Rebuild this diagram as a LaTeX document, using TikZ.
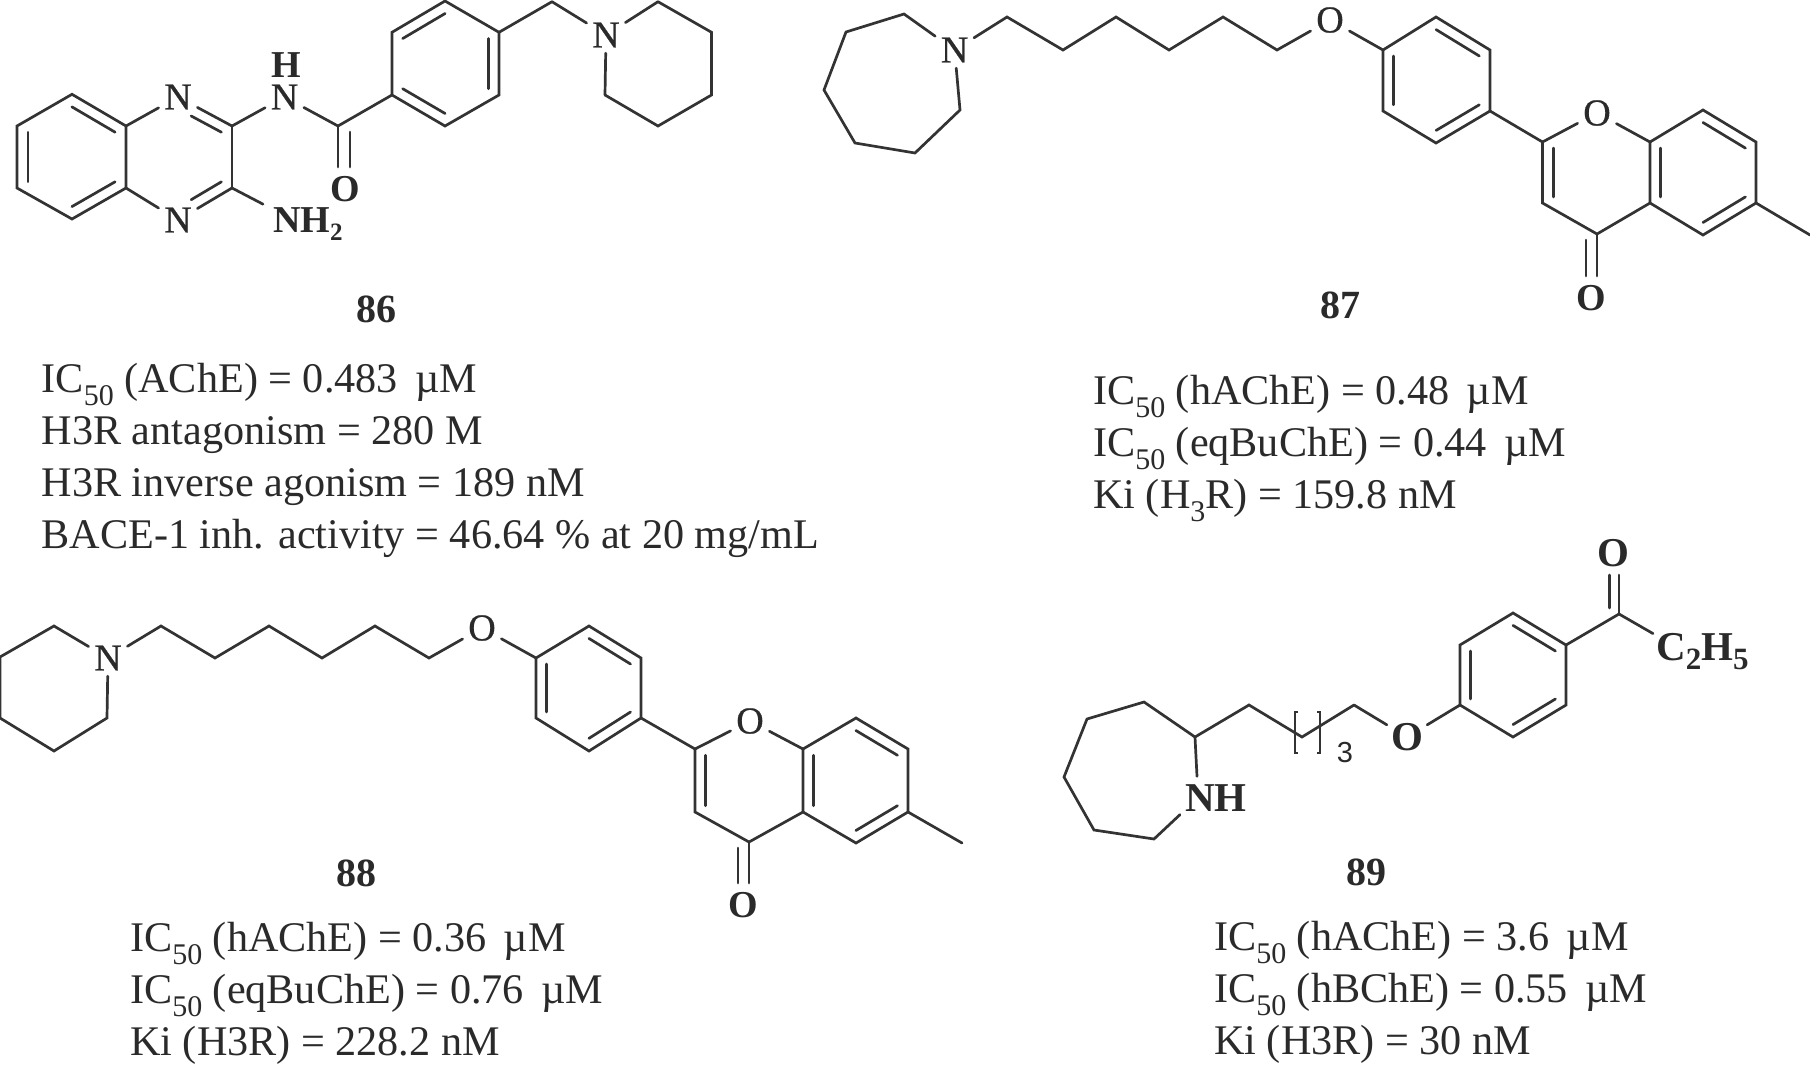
\documentclass[tikz,border=0pt]{standalone}
\usepackage{fontspec}
\setmainfont{Liberation Serif}
\setsansfont{Liberation Sans}
\newfontfamily\atomfont[FakeBold=0.6]{Liberation Serif}
\usetikzlibrary{calc}
\definecolor{ink}{HTML}{333333}
\definecolor{txt}{HTML}{2A2A2A}
\newcommand\dbl[3]{\draw[bond] ($(#1)!.2!(#3)$) -- ($(#2)!.2!(#3)$);}
\newcommand\dblN[3]{\draw[bond] ($($(#1)!.2!(#3)$)!.3!($(#2)!.2!(#3)$)$) -- ($(#2)!.2!(#3)$);}
\newcommand\subn[1]{\raisebox{-0.3em}{\fontsize{30}{30}\selectfont #1}}
\newcommand\subb[1]{\raisebox{-0.22em}{\fontsize{25}{25}\selectfont #1}}
\newcommand\subc[1]{\raisebox{-0.22em}{\fontsize{31}{31}\selectfont #1}}
\tikzset{
  bond/.style={draw=ink,line width=2.7pt,line join=miter,line cap=round},
  atom/.style={inner sep=5.5pt,text=txt,font=\fontsize{38}{38}\atomfont},
  batom/.style={atom,font=\fontsize{38}{38}\selectfont\bfseries},
  latom/.style={inner sep=4pt,text=txt,font=\fontsize{41}{41}\selectfont\bfseries},
  idlabel/.style={inner sep=0pt,text=txt,font=\fontsize{40}{40}\selectfont\bfseries},
  data/.style={inner sep=0pt,anchor=north west,align=left,text=txt,font=\fontsize{42.2}{51.8}\selectfont},
}
\begin{document}
\begin{tikzpicture}[x=1pt,y=-1pt]
\useasboundingbox (0,0) rectangle (1810,1069);
% ---------- 86 ----------
\coordinate (a1) at (17,126); \coordinate (a2) at (72,94.3); \coordinate (a3) at (126,126);
\coordinate (a4) at (126,188); \coordinate (a5) at (72,219); \coordinate (a6) at (17,188);
\coordinate (ac1) at (71.5,157); \coordinate (ac2) at (179,157);
\coordinate (a7) at (232,126); \coordinate (a8) at (232,188);
\coordinate (a9) at (338,126);
\coordinate (a9o) at (338,167); \coordinate (a9p) at (350,132); \coordinate (a9q) at (350,167);
\node[atom] (an1) at (178,97) {N};
\node[atom] (an2) at (178,220) {N};
\node[atom] (anh) at (284.5,97) {N};
\node[batom,inner sep=0pt] (ah) at (286,65) {H};
\node[batom] (aoo) at (345,189) {O};
\node[batom,anchor=west,inner sep=0pt] (anh2) at (273,224) {NH\subb{2}};
\coordinate (b1) at (392,95); \coordinate (b2) at (392,32.3); \coordinate (b3) at (445,1);
\coordinate (b4) at (499,32.3); \coordinate (b5) at (499,95); \coordinate (b6) at (445,126);
\coordinate (bc) at (445.5,63.5);
\coordinate (b7) at (552,1.7);
\node[atom] (bn) at (606,35) {N};
\coordinate (p1) at (658,1.7); \coordinate (p2) at (711.5,32.3); \coordinate (p3) at (711.5,95);
\coordinate (p4) at (658,126); \coordinate (p5) at (605,95);
\draw[bond] (a1)--(a2)--(a3)--(a4)--(a5)--(a6)--cycle;
\dbl{a2}{a3}{ac1} \dbl{a4}{a5}{ac1} \dbl{a6}{a1}{ac1}
\draw[bond] (a3)--(an1); \draw[bond] (an1)--(a7); \draw[bond] (a7)--(a8); \draw[bond] (a8)--(an2); \draw[bond] (an2)--(a4);
\dblN{an1}{a7}{ac2} \dblN{an2}{a8}{ac2}
\draw[bond] (a7)--(anh); \draw[bond] (anh)--(a9); \draw[bond] (a8)--([xshift=-10pt,yshift=3pt]anh2.north west);
\draw[bond] (a9)--(a9o); \draw[bond] (a9p)--(a9q);
\draw[bond] (a9)--(b1);
\draw[bond] (b1)--(b2)--(b3)--(b4)--(b5)--(b6)--cycle;
\dbl{b1}{b6}{bc} \dbl{b2}{b3}{bc} \dbl{b4}{b5}{bc}
\draw[bond] (b4)--(b7); \draw[bond] (b7)--(bn); \draw[bond] (bn)--(p1);
\draw[bond] (p1)--(p2)--(p3)--(p4)--(p5); \draw[bond] (p5)--(bn);
\node[idlabel] (l86) at (376.5,309) {86};
\node[data] (t86) at (41.5,363.5) {IC\subn{50} (AChE) = 0.483\, µM\\H3R antagonism = 280 M\\H3R inverse agonism = 189 nM\\BACE-1 inh. activity = 46.64 \% at 20 mg/mL};
% ---------- 87 ----------
\node[atom] (cn) at (954.6,50) {N};
\coordinate (c1) at (904,14); \coordinate (c2) at (846,32); \coordinate (c3) at (824,90);
\coordinate (c4) at (855,143); \coordinate (c5) at (915,153); \coordinate (c6) at (960,110);
\coordinate (d1) at (1007,17); \coordinate (d2) at (1063,50); \coordinate (d3) at (1116,17);
\coordinate (d4) at (1169,50); \coordinate (d5) at (1223,17); \coordinate (d6) at (1277,50);
\node[atom] (do) at (1330,20) {O};
\coordinate (e1) at (1383,50); \coordinate (e2) at (1436,17); \coordinate (e3) at (1490,50);
\coordinate (e4) at (1490,111); \coordinate (e5) at (1436,143); \coordinate (e6) at (1383,111);
\coordinate (ec) at (1436.5,80);
\coordinate (f1) at (1542.5,142);
\node[atom] (fo) at (1597,113) {O};
\coordinate (f2) at (1650,142); \coordinate (f3) at (1650,203); \coordinate (f4) at (1597,234);
\coordinate (f5) at (1542.5,203);
\coordinate (fc) at (1596.5,172.5);
\coordinate (f4a) at (1597,276); \coordinate (f4b) at (1586,240); \coordinate (f4c) at (1586,276);
\node[batom] (foo) at (1591,298) {O};
\coordinate (g1) at (1703,110); \coordinate (g2) at (1756,142); \coordinate (g3) at (1756,203);
\coordinate (g4) at (1703,235); \coordinate (g5) at (1810,235);
\coordinate (gc) at (1703,172.5);
\draw[bond] (cn)--(c1)--(c2)--(c3)--(c4)--(c5)--(c6)--(cn);
\draw[bond] (cn)--(d1)--(d2)--(d3)--(d4)--(d5)--(d6)--(do);
\draw[bond] (do)--(e1);
\draw[bond] (e1)--(e2)--(e3)--(e4)--(e5)--(e6)--cycle;
\dbl{e1}{e6}{ec} \dbl{e2}{e3}{ec} \dbl{e4}{e5}{ec}
\draw[bond] (e4)--(f1);
\draw[bond] (f1)--(fo); \draw[bond] (fo)--(f2);
\draw[bond] (f2)--(f3)--(f4)--(f5)--(f1);
\dbl{f1}{f5}{fc}
\draw[bond] (f4)--(f4a); \draw[bond] (f4b)--(f4c);
\draw[bond] (f2)--(g1)--(g2)--(g3)--(g4)--(f3);
\dbl{f2}{f3}{gc} \dbl{g1}{g2}{gc} \dbl{g3}{g4}{gc}
\draw[bond] (g3)--(g5);
\node[idlabel] (l87) at (1340,305) {87};
\node[data] (t87) at (1093,375.5) {IC\subn{50} (hAChE) = 0.48\, µM\\IC\subn{50} (eqBuChE) = 0.44\, µM\\Ki (H\subn{3}R) = 159.8 nM};
% ---------- 88 ----------
\node[atom] (hn) at (108,658) {N};
\coordinate (h1) at (54,626); \coordinate (h2) at (0,657); \coordinate (h3) at (0,718);
\coordinate (h4) at (54,751); \coordinate (h5) at (107,718);
\coordinate (i1) at (161,626); \coordinate (i2) at (215,658); \coordinate (i3) at (269,626);
\coordinate (i4) at (322,658); \coordinate (i5) at (375,626); \coordinate (i6) at (429,658);
\node[atom] (io) at (482,628) {O};
\coordinate (j1) at (536,658); \coordinate (j2) at (589,626); \coordinate (j3) at (641,658);
\coordinate (j4) at (641,718); \coordinate (j5) at (589,751); \coordinate (j6) at (536,718);
\coordinate (jc) at (588.5,688);
\coordinate (k1) at (695,749);
\node[atom] (ko) at (750,721) {O};
\coordinate (k2) at (803,749); \coordinate (k3) at (803,812); \coordinate (k4) at (749,842);
\coordinate (k5) at (695,812);
\coordinate (kc) at (749,780.5);
\coordinate (k4a) at (749,883); \coordinate (k4b) at (738,848); \coordinate (k4c) at (738,883);
\node[batom] (koo) at (743,905) {O};
\coordinate (m1) at (856,718); \coordinate (m2) at (908,749); \coordinate (m3) at (908,812);
\coordinate (m4) at (856,843); \coordinate (m5) at (962,843);
\coordinate (mc) at (855.5,780.5);
\draw[bond] (hn)--(h1)--(h2)--(h3)--(h4)--(h5)--(hn);
\draw[bond] (hn)--(i1)--(i2)--(i3)--(i4)--(i5)--(i6)--(io);
\draw[bond] (io)--(j1);
\draw[bond] (j1)--(j2)--(j3)--(j4)--(j5)--(j6)--cycle;
\dbl{j1}{j6}{jc} \dbl{j2}{j3}{jc} \dbl{j4}{j5}{jc}
\draw[bond] (j4)--(k1);
\draw[bond] (k1)--(ko); \draw[bond] (ko)--(k2);
\draw[bond] (k2)--(k3)--(k4)--(k5)--(k1);
\dbl{k1}{k5}{kc}
\draw[bond] (k4)--(k4a); \draw[bond] (k4b)--(k4c);
\draw[bond] (k2)--(m1)--(m2)--(m3)--(m4)--(k3);
\dbl{k2}{k3}{mc} \dbl{m1}{m2}{mc} \dbl{m3}{m4}{mc}
\draw[bond] (m3)--(m5);
\node[idlabel] (l88) at (356,873) {88};
\node[data] (t88) at (130,922.5) {IC\subn{50} (hAChE) = 0.36\, µM\\IC\subn{50} (eqBuChE) = 0.76\, µM\\Ki (H3R) = 228.2 nM};
% ---------- 89 ----------
\node[latom] (qot) at (1613,553) {O};
\coordinate (q1) at (1619,614); \coordinate (q1a) at (1619,575); \coordinate (q1b) at (1609.5,608); \coordinate (q1c) at (1609.5,575);
\node[latom,anchor=west,inner sep=0pt] (qet) at (1656,652) {C\subc{2}H\subc{5}};
\coordinate (r1) at (1566,645); \coordinate (r2) at (1513,613); \coordinate (r3) at (1460,645);
\coordinate (r4) at (1460,705); \coordinate (r5) at (1513,737); \coordinate (r6) at (1566,705);
\coordinate (rc) at (1513,675);
\node[latom] (so) at (1407,737) {O};
\coordinate (s1) at (1354,705); \coordinate (s2) at (1302,737); \coordinate (s3) at (1249,705);
\coordinate (s4) at (1195,737); \coordinate (s5) at (1144,702); \coordinate (s6) at (1087,719);
\coordinate (s7) at (1064,777); \coordinate (s8) at (1094,830); \coordinate (s9) at (1154,839);
\node[latom,anchor=west,inner sep=0pt] (snh) at (1185,798) {NH};
\coordinate (ba) at (1298,712); \coordinate (bb) at (1295,712); \coordinate (bc1) at (1295,753); \coordinate (bd) at (1298,753);
\coordinate (be) at (1317,712); \coordinate (bf) at (1320,712); \coordinate (bg) at (1320,753); \coordinate (bh) at (1317,753);
\node[inner sep=0pt,text=txt,font=\fontsize{29}{29}\selectfont\sffamily] (sthree) at (1345,753) {3};
\draw[bond] (q1)--(q1a); \draw[bond] (q1b)--(q1c);
\draw[bond] (q1)--([xshift=-3pt]qet.north west);
\draw[bond] (q1)--(r1);
\draw[bond] (r1)--(r2)--(r3)--(r4)--(r5)--(r6)--cycle;
\dbl{r1}{r2}{rc} \dbl{r3}{r4}{rc} \dbl{r5}{r6}{rc}
\draw[bond] (r4)--(so); \draw[bond] (so)--(s1);
\draw[bond] (s1)--(s2)--(s3)--(s4)--(s5)--(s6)--(s7)--(s8)--(s9)--([xshift=-5pt,yshift=-3pt]snh.south west);
\draw[bond] (s4)--([xshift=12pt,yshift=8pt]snh.north west);
\draw[draw=ink,line width=1.8pt] (ba)--(bb)--(bc1)--(bd);
\draw[draw=ink,line width=1.8pt] (be)--(bf)--(bg)--(bh);
\node[idlabel] (l89) at (1366.5,872) {89};
\node[data] (t89) at (1214,921.5) {IC\subn{50} (hAChE) = 3.6\, µM\\IC\subn{50} (hBChE) = 0.55\, µM\\Ki (H3R) = 30 nM};
\end{tikzpicture}
\end{document}
